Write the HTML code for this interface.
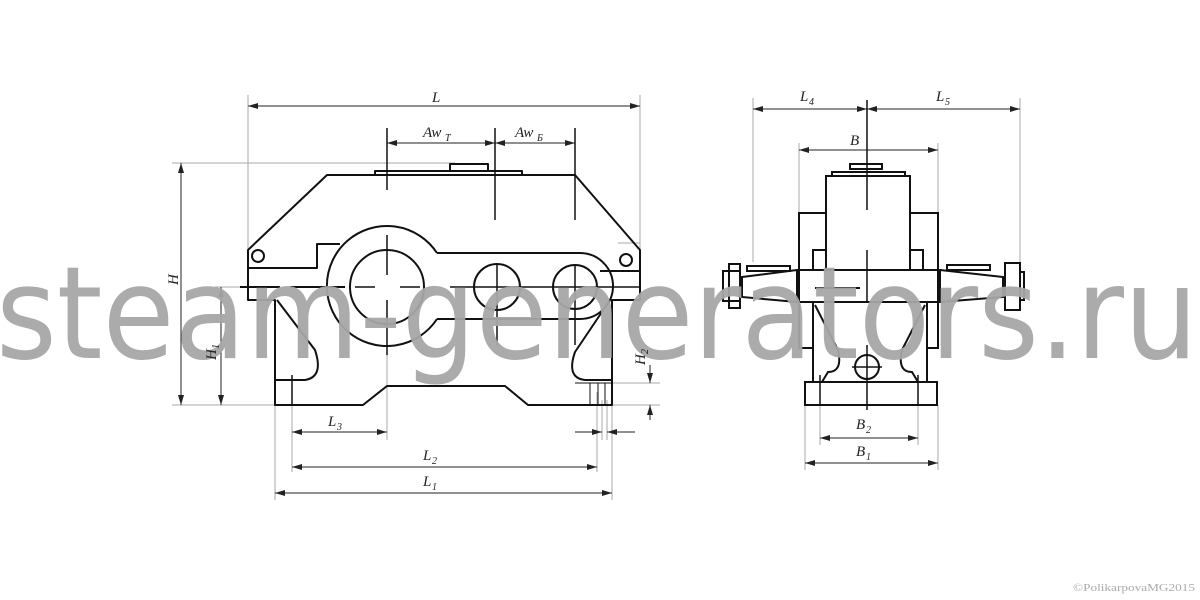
<!DOCTYPE html>
<html><head><meta charset="utf-8"><style>
html,body{margin:0;padding:0;background:#fff;}
svg{display:block;}
.t{font-family:"Liberation Serif",serif;font-style:italic;font-size:15px;fill:#222;}
.s{font-family:"Liberation Serif",serif;font-style:italic;font-size:10px;fill:#222;}
</style></head><body>
<svg width="1200" height="600" viewBox="0 0 1200 600" xmlns="http://www.w3.org/2000/svg">
<defs>
<marker id="a" viewBox="0 0 10 6" refX="10" refY="3" markerWidth="10" markerHeight="6" orient="auto-start-reverse" markerUnits="userSpaceOnUse"><path d="M0,0 L10,3 L0,6 z" fill="#222"/></marker>
</defs>
<g stroke="#aaa" stroke-width="1" fill="none">
<line x1="248" y1="95" x2="248" y2="288"/><line x1="640" y1="95" x2="640" y2="290"/>
<line x1="172" y1="163" x2="455" y2="163"/><line x1="172" y1="405" x2="275" y2="405"/>
<line x1="215" y1="287" x2="250" y2="287"/>
<line x1="292" y1="375" x2="292" y2="472"/><line x1="275" y1="405" x2="275" y2="500"/>
<line x1="612" y1="405" x2="612" y2="500"/><line x1="597" y1="392" x2="597" y2="472"/>
<line x1="602" y1="400" x2="602" y2="440"/><line x1="607" y1="400" x2="607" y2="440"/>
<line x1="612" y1="383" x2="660" y2="383"/><line x1="612" y1="405" x2="660" y2="405"/>
<line x1="387" y1="355" x2="387" y2="440"/>
<line x1="753" y1="98" x2="753" y2="262"/><line x1="1020" y1="98" x2="1020" y2="262"/>
<line x1="799" y1="143" x2="799" y2="213"/><line x1="938" y1="143" x2="938" y2="213"/>
<line x1="820" y1="380" x2="820" y2="445"/><line x1="918" y1="380" x2="918" y2="445"/>
<line x1="805" y1="405" x2="805" y2="470"/><line x1="938" y1="405" x2="938" y2="470"/>
<line x1="618" y1="243" x2="640" y2="243"/>
</g>
<g stroke="#222" stroke-width="1" fill="none">
<line x1="248" y1="106" x2="640" y2="106" marker-start="url(#a)" marker-end="url(#a)"/>
<line x1="387" y1="143" x2="495" y2="143" marker-start="url(#a)" marker-end="url(#a)"/>
<line x1="495" y1="143" x2="575" y2="143" marker-start="url(#a)" marker-end="url(#a)"/>
<line x1="387" y1="128" x2="387" y2="143"/><line x1="495" y1="128" x2="495" y2="143"/><line x1="575" y1="128" x2="575" y2="143"/>
<line x1="181" y1="163" x2="181" y2="405" marker-start="url(#a)" marker-end="url(#a)"/>
<line x1="221" y1="287" x2="221" y2="405" marker-start="url(#a)" marker-end="url(#a)"/>
<line x1="650" y1="365" x2="650" y2="383" marker-end="url(#a)"/>
<line x1="650" y1="420" x2="650" y2="405" marker-end="url(#a)"/>
<line x1="292" y1="432" x2="387" y2="432" marker-start="url(#a)" marker-end="url(#a)"/>
<line x1="575" y1="432" x2="602" y2="432" marker-end="url(#a)"/>
<line x1="635" y1="432" x2="607" y2="432" marker-end="url(#a)"/>
<line x1="292" y1="467" x2="597" y2="467" marker-start="url(#a)" marker-end="url(#a)"/>
<line x1="275" y1="493" x2="612" y2="493" marker-start="url(#a)" marker-end="url(#a)"/>
<line x1="753" y1="109" x2="867" y2="109" marker-start="url(#a)" marker-end="url(#a)"/>
<line x1="867" y1="109" x2="1020" y2="109" marker-start="url(#a)" marker-end="url(#a)"/>
<line x1="799" y1="150" x2="938" y2="150" marker-start="url(#a)" marker-end="url(#a)"/>
<line x1="820" y1="438" x2="918" y2="438" marker-start="url(#a)" marker-end="url(#a)"/>
<line x1="805" y1="463" x2="938" y2="463" marker-start="url(#a)" marker-end="url(#a)"/>
</g>
<g stroke="#111" stroke-width="2" fill="none" stroke-linejoin="round">
<path d="M327 175 L575 175 L640 250 L640 300 L612 300 L612 405 L528 405 L505 386 L387 386 L363 405 L275 405 L275 300 L248 300 L248 250 Z"/>
<rect x="375" y="171" width="147" height="4"/>
<rect x="450" y="164" width="38" height="7"/>
<path d="M248 268 L317 268 L317 244 L340 244"/>
<path d="M437 253 L580 253"/>
<path d="M600 271 L640 271"/>
<path d="M437 319 L580 319"/>
<path d="M437 253 A60 60 0 1 0 437 319"/>
<path d="M580 253 A33 33 0 0 1 580 319"/>
<circle cx="387" cy="287" r="37"/>
<circle cx="497" cy="287" r="23"/>
<circle cx="575" cy="287" r="22"/>
<circle cx="258" cy="256" r="6"/>
<circle cx="626" cy="260" r="6"/>
<path d="M277 300 L315 350 Q324 377 305 380 L275 380"/>
<path d="M610 300 L575 352 Q566 378 585 380 L612 380"/>
<line x1="240" y1="287" x2="280" y2="287"/>
<line x1="290" y1="287" x2="345" y2="287"/>
<line x1="575" y1="383" x2="612" y2="383" stroke-width="1"/>
<line x1="590" y1="383" x2="590" y2="405" stroke-width="1"/>
<line x1="598" y1="383" x2="598" y2="405" stroke-width="1"/>
<line x1="605" y1="383" x2="605" y2="405" stroke-width="1"/>
</g>
<g stroke="#111" stroke-width="1.5" fill="none">
<line x1="387" y1="128" x2="387" y2="190"/><line x1="387" y1="235" x2="387" y2="275"/><line x1="387" y1="300" x2="387" y2="355"/>
<line x1="355" y1="287" x2="375" y2="287"/><line x1="400" y1="287" x2="420" y2="287"/>
<line x1="495" y1="128" x2="495" y2="220"/><line x1="497" y1="265" x2="497" y2="345"/>
<line x1="575" y1="128" x2="575" y2="220"/><line x1="575" y1="265" x2="575" y2="345"/>
<line x1="450" y1="287" x2="640" y2="287"/>
<line x1="292" y1="375" x2="292" y2="405"/>
</g>
<g stroke="#111" stroke-width="2" fill="none">
<rect x="826" y="176" width="84" height="94"/>
<rect x="832" y="172" width="73" height="4"/>
<rect x="850" y="164" width="32" height="5"/>
<path d="M826 213 L799 213 L799 348 L813 348"/>
<path d="M910 213 L938 213 L938 348 L927 348"/>
<path d="M826 250 L813 250 L813 270"/><path d="M910 250 L923 250 L923 270"/>
<rect x="797" y="270" width="143" height="32"/>
<path d="M797 270 L742 277 L742 297 L797 302"/>
<path d="M940 270 L1003 277 L1003 297 L940 302"/>
<rect x="747" y="266" width="43" height="5"/>
<rect x="947" y="265" width="43" height="5"/>
<rect x="723" y="271" width="17" height="30"/>
<rect x="729" y="264" width="11" height="44"/>
<rect x="1005" y="263" width="15" height="47"/>
<rect x="1020" y="272" width="4" height="28"/>
<path d="M813 302 L813 382 M927 302 L927 382"/>
<path d="M815 305 L838 350 Q843 372 828 372 L822 382"/>
<path d="M925 305 L902 350 Q897 372 912 372 L918 382"/>
<circle cx="867" cy="367" r="12"/>
<rect x="805" y="382" width="132" height="23"/>
<line x1="815" y1="288" x2="860" y2="288"/>
</g>
<g stroke="#111" stroke-width="1.5" fill="none">
<line x1="867" y1="100" x2="867" y2="210"/><line x1="867" y1="250" x2="867" y2="302"/><line x1="867" y1="345" x2="867" y2="410"/>
<line x1="852" y1="367" x2="882" y2="367"/>
<line x1="820" y1="375" x2="820" y2="405"/><line x1="918" y1="375" x2="918" y2="405"/>
</g>
<text x="-4" y="358" font-family="DejaVu Sans, sans-serif" font-size="128" fill="#a6a6a6" fill-opacity="0.95" textLength="1202" lengthAdjust="spacingAndGlyphs">steam-generators.ru</text>
<text class="t" x="432" y="102">L</text>
<text class="t" x="423" y="137">Aw</text><text class="s" x="445" y="141">T</text>
<text class="t" x="515" y="137">Aw</text><text class="s" x="537" y="141">Б</text>
<text class="t" transform="translate(178,285) rotate(-90)">H</text>
<text class="t" transform="translate(216,360) rotate(-90)">H</text><text class="s" transform="translate(219,349) rotate(-90)">1</text>
<text class="t" transform="translate(645,365) rotate(-90)">H</text><text class="s" transform="translate(648,354) rotate(-90)">2</text>
<text class="t" x="328" y="426">L</text><text class="s" x="337" y="430">3</text>
<text class="t" x="423" y="460">L</text><text class="s" x="432" y="464">2</text>
<text class="t" x="423" y="486">L</text><text class="s" x="432" y="490">1</text>
<text class="t" x="800" y="101">L</text><text class="s" x="809" y="105">4</text>
<text class="t" x="936" y="101">L</text><text class="s" x="945" y="105">5</text>
<text class="t" x="850" y="145">B</text>
<text class="t" x="856" y="429">B</text><text class="s" x="866" y="433">2</text>
<text class="t" x="856" y="456">B</text><text class="s" x="866" y="460">1</text>
<text x="1073" y="591" font-family="Liberation Serif,serif" font-size="11" fill="#aaa" textLength="122" lengthAdjust="spacingAndGlyphs">©PolikarpovaMG2015</text>
</svg>
</body></html>
